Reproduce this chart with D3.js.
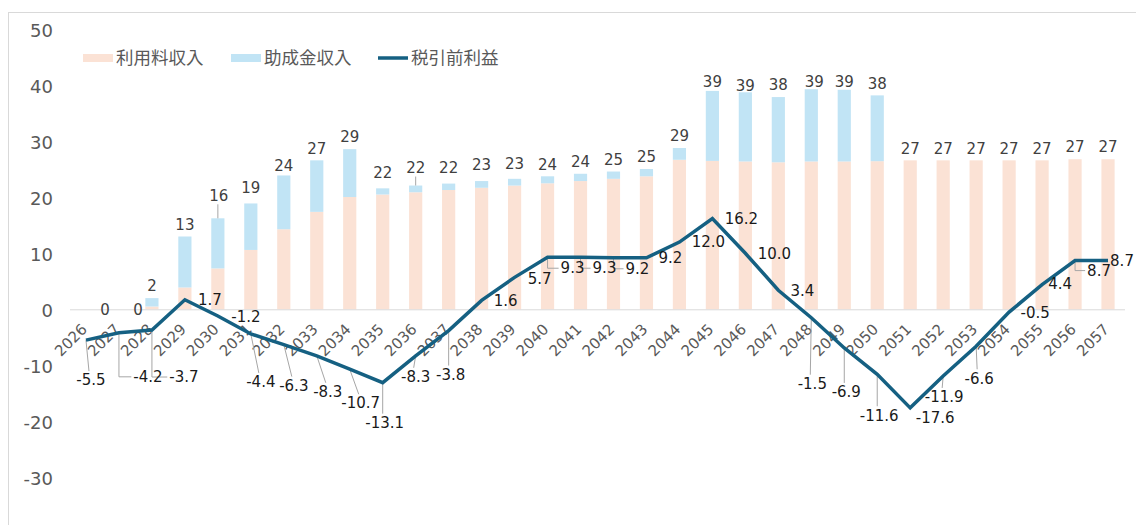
<!DOCTYPE html>
<html>
<head>
<meta charset="utf-8">
<script src="https://cdn.jsdelivr.net/npm/d3@7"></script>
<style>
  body { margin: 0; background: #fff; }
</style>
</head>
<body>
<div id="chart"></div>
<script>
// categories
const years = ['2026', '2027', '2028', '2029', '2030', '2031', '2032', '2033',
  '2034', '2035', '2036', '2037', '2038', '2039', '2040', '2041',
  '2042', '2043', '2044', '2045', '2046', '2047', '2048', '2049',
  '2050', '2051', '2052', '2053', '2054', '2055', '2056', '2057'];

// 利用料収入
const feeIncome = [0, 0, 0.5, 3.9, 7.3, 10.6, 14.3, 17.4,
  20.05, 20.5, 20.9, 21.3, 21.7, 22.1, 22.5, 22.9,
  23.3, 23.75, 26.7, 26.5, 26.4, 26.25, 26.4, 26.4,
  26.45, 26.6, 26.6, 26.6, 26.6, 26.6, 26.8, 26.8];

// 助成金収入
const subsidyIncome = [0, 0, 1.5, 9.1, 8.95, 8.3, 9.6, 9.2,
  8.55, 1.1, 1.2, 1.15, 1.2, 1.2, 1.25, 1.3,
  1.3, 1.3, 2.1, 12.5, 12.35, 11.65, 12.9, 12.8,
  11.75, 0, 0, 0, 0, 0, 0, 0];

// 税引前利益
const pretaxProfit = [-5.5, -4.2, -3.7, 1.7, -1.2, -4.4, -6.3, -8.3,
  -10.7, -13.1, -8.3, -3.8, 1.6, 5.7, 9.3, 9.3,
  9.2, 9.2, 12.0, 16.2, 10.0, 3.4, -1.5, -6.9,
  -11.6, -17.6, -11.9, -6.6, -0.5, 4.4, 8.7, 8.7];

const yTicks = [-30, -20, -10, 0, 10, 20, 30, 40, 50];
const seriesNames = ['利用料収入', '助成金収入', '税引前利益'];

// where the profit labels were dragged to: [dx, dy, leader line]
const profitLabelOffsets = [
  [5, 40, 1], [29, 44, 1], [32, 47, 1], [25, 0, 0], [28, 1, 0], [10, 48, 1], [10, 41, 1], [11, 36, 1],
  [11, 34, 1], [2, 40, 1], [0, 21, 1], [2, 44, 1], [24, 0, 0], [25, 1, 0], [25, 11, 1], [24, 11, 1],
  [24, 11, 1], [24, 0, 0], [29, 0, 0], [29, 0, 0], [29, 0, 0], [24, 0, 0], [1, 66, 1], [2, 44, 1],
  [2, 41, 1], [25, 10, 0], [1, 21, 1], [3, 32, 1], [26, 1, 0], [18, -1, 0], [24, 10, 1], [14, 0, 0]
];

// a few total labels sit off their default spot: [dx, dy, leader line]
const totalLabelNudges = {
  '2026': [19, 0, 0], '2027': [19, 0, 0], '2030': [1, -23, 1], '2031': [0, -16, 0],
  '2035': [0, -16, 0], '2036': [0, -18, 1], '2037': [0, -16, 0], '2038': [0, -16, 0],
  '2039': [0, -15, 0], '2045': [0, -9, 0], '2046': [0, -7, 0], '2048': [3, -7, 0],
  '2049': [0, -8, 0], '2032': [0, -10, 0]
};

const COLORS = {
  fee: '#FBE2D5',
  subsidy: '#C1E4F5',
  line: '#156082',
  tick: '#595959',
  barLabel: '#404040',
  lineLabel: '#1A1A1A',
  leader: '#A6A6A6',
  border: '#D9D9D9'
};
const FONT = "'DejaVu Sans', 'Noto Sans CJK JP', sans-serif";
const CJK = "'Noto Sans CJK JP', sans-serif";

const width = 1136;
const height = 525;

const table = years.map((yr, i) => ({
  year: yr,
  fee: feeIncome[i],
  subsidy: subsidyIncome[i],
  profit: pretaxProfit[i]
}));

const svg = d3.select('#chart')
  .append('svg')
  .attr('width', width)
  .attr('height', height)
  .style('font-family', FONT);

// chart frame
svg.append('rect')
  .attr('x', 8.5)
  .attr('y', 12.5)
  .attr('width', width + 20)
  .attr('height', height + 20)
  .attr('fill', 'none')
  .attr('stroke', COLORS.border);

const x = d3.scaleBand()
  .domain(years)
  .range([69.5, 1124.5])
  .paddingInner(0.6)
  .paddingOuter(0.3);

const y = d3.scaleLinear()
  .domain([-30, 50])
  .range([477.3, 29.3]);

const cx = yr => x(yr) + x.bandwidth() / 2;

// y axis (labels only)
const yAxis = svg.append('g')
  .attr('transform', 'translate(55,1.5)')
  .call(d3.axisLeft(y).tickValues(yTicks).tickSize(0).tickPadding(2).tickFormat(d => String(d)))
  .attr('font-family', FONT)
  .attr('font-size', 18);
yAxis.select('.domain').remove();
yAxis.selectAll('text').attr('fill', COLORS.tick);

// stacked bars
const stack = d3.stack().keys(['fee', 'subsidy']);
const layers = stack(table);

svg.append('g')
  .selectAll('g')
  .data(layers)
  .join('g')
  .attr('fill', d => COLORS[d.key])
  .selectAll('rect')
  .data(d => d)
  .join('rect')
  .attr('x', d => x(d.data.year))
  .attr('width', x.bandwidth())
  .attr('y', d => y(d[1]))
  .attr('height', d => Math.max(0, y(d[0]) - y(d[1])));

// category axis on the zero line
const xAxis = svg.append('g')
  .attr('transform', `translate(0,${y(0)})`)
  .call(d3.axisBottom(x).tickSize(0).tickSizeOuter(0))
  .attr('font-family', FONT)
  .attr('font-size', 15);
xAxis.select('.domain').attr('stroke', COLORS.border);
xAxis.selectAll('text')
  .attr('fill', COLORS.tick)
  .attr('y', 0)
  .attr('dy', null)
  .attr('text-anchor', 'end')
  .attr('transform', 'translate(2,21) rotate(-45)');

// total labels above bars
const totalGroup = svg.append('g')
  .attr('font-size', 15)
  .attr('fill', COLORS.barLabel);

table.forEach(d => {
  const total = d.fee + d.subsidy;
  const nudge = totalLabelNudges[d.year] || [0, -12, 0];
  const lx = cx(d.year) + nudge[0];
  const ly = y(total) + nudge[1];
  totalGroup.append('text')
    .attr('x', lx)
    .attr('y', ly)
    .attr('dy', '0.35em')
    .attr('text-anchor', 'middle')
    .text(Math.round(total));
  if (nudge[2]) {
    totalGroup.append('line')
      .attr('x1', cx(d.year))
      .attr('x2', cx(d.year))
      .attr('y1', ly + 9)
      .attr('y2', y(total))
      .attr('stroke', COLORS.leader)
      .attr('stroke-width', 1);
  }
});

// profit line
const line = d3.line()
  .x(d => cx(d.year))
  .y(d => y(d.profit));

const leaderGroup = svg.append('g');

svg.append('path')
  .datum(table)
  .attr('fill', 'none')
  .attr('stroke', COLORS.line)
  .attr('stroke-width', 3.5)
  .attr('stroke-linejoin', 'miter')
  .attr('d', line);

// profit labels with leader lines
const profitGroup = svg.append('g')
  .attr('font-size', 15)
  .attr('fill', COLORS.lineLabel);

table.forEach((d, i) => {
  const [dx, dy, leader] = profitLabelOffsets[i];
  const px = cx(d.year);
  const py = y(d.profit);
  const lx = px + dx;
  const ly = py + dy;
  const label = profitGroup.append('text')
    .attr('x', lx)
    .attr('y', ly)
    .attr('dy', '0.35em')
    .attr('text-anchor', 'middle')
    .text(d.profit.toFixed(1));

  if (!leader) return;
  const w = label.node().getBBox().width;
  const left = lx - w / 2;
  let pts;
  if (left > px + 3) {
    // down then across to the label
    pts = [[px, py], [px, ly], [left - 2, ly]];
  } else {
    pts = [[px, py], [lx - 2, ly - 9]];
  }
  leaderGroup.append('path')
    .attr('d', d3.line()(pts))
    .attr('fill', 'none')
    .attr('stroke', COLORS.leader)
    .attr('stroke-width', 1);
});

// legend
const legend = svg.append('g')
  .attr('transform', 'translate(0,58)')
  .attr('font-family', CJK)
  .attr('font-size', 17.5)
  .attr('fill', COLORS.tick);

const legendItems = [
  { name: seriesNames[0], x: 83, type: 'rect', color: COLORS.fee },
  { name: seriesNames[1], x: 231, type: 'rect', color: COLORS.subsidy },
  { name: seriesNames[2], x: 378, type: 'line', color: COLORS.line }
];

legendItems.forEach(item => {
  if (item.type === 'rect') {
    legend.append('rect')
      .attr('x', item.x)
      .attr('y', -4)
      .attr('width', 30)
      .attr('height', 8)
      .attr('fill', item.color);
  } else {
    legend.append('line')
      .attr('x1', item.x)
      .attr('x2', item.x + 30)
      .attr('stroke', item.color)
      .attr('stroke-width', 3.5);
  }
  legend.append('text')
    .attr('x', item.x + 33)
    .attr('dy', '0.35em')
    .text(item.name);
});
</script>
</body>
</html>
